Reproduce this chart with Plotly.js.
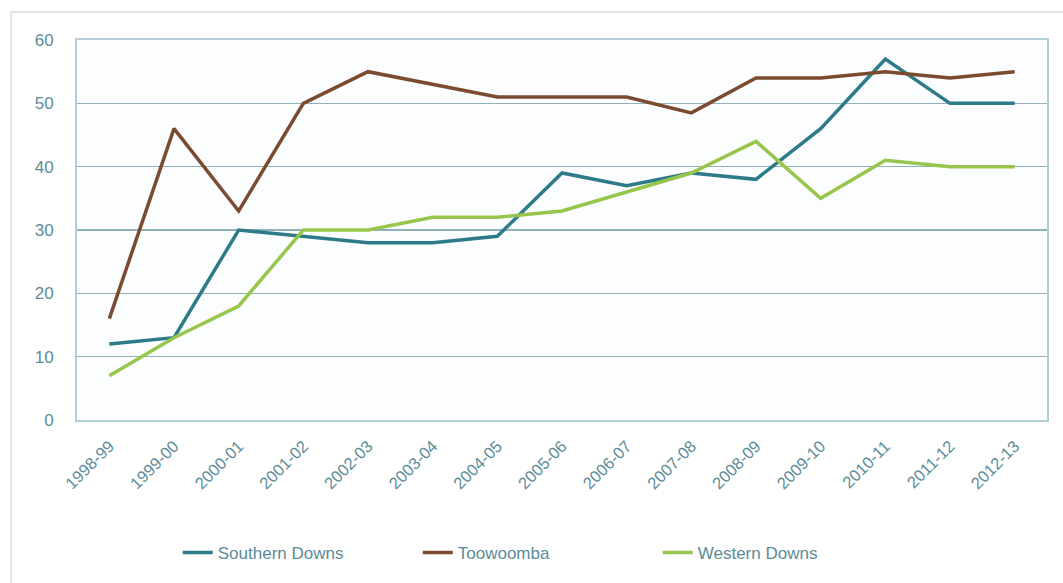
<!DOCTYPE html>
<html>
<head>
<meta charset="utf-8">
<script src="https://cdn.plot.ly/plotly-3.0.1.min.js"></script>
<style>
html,body{margin:0;padding:0;background:#ffffff;}
#chart{width:1063px;height:583px;}
</style>
</head>
<body>
<div id="chart"></div>
<script>
const years = ["1998-99","1999-00","2000-01","2001-02","2002-03","2003-04","2004-05","2005-06","2006-07","2007-08","2008-09","2009-10","2010-11","2011-12","2012-13"];
const southernDowns = [12,13,30,29,28,28,29,39,37,39,38,46,57,50,50];
const toowoomba = [16,46,33,50,55,53,51,51,51,48.5,54,54,55,54,55];
const westernDowns = [7,13,18,30,30,32,32,33,36,39,44,35,41,40,40];
const yTicks = [0,10,20,30,40,50,60];

const labelColor = "#5b8c97";
const traces = [
  {x: years, y: southernDowns, name: "Southern Downs", type: "scatter", mode: "lines", line: {color: "#2d7a89", width: 3.5}},
  {x: years, y: toowoomba, name: "Toowoomba", type: "scatter", mode: "lines", line: {color: "#7b4b30", width: 3.5}},
  {x: years, y: westernDowns, name: "Western Downs", type: "scatter", mode: "lines", line: {color: "#98c64c", width: 3.5}}
];

const layout = {
  width: 1063, height: 583,
  margin: {l: 77, r: 16, t: 40, b: 163},
  paper_bgcolor: "#ffffff",
  plot_bgcolor: "#fbfdfe",
  font: {family: "Liberation Sans, Arial, sans-serif", color: labelColor},
  showlegend: true,
  legend: {orientation: "h", x: 0.475, xanchor: "center", y: -0.35, yanchor: "middle",
           font: {size: 17, color: labelColor}, entrywidth: 195, traceorder: "normal"},
  xaxis: {
    type: "category", range: [-0.5, 14.5],
    tickangle: -45, tickfont: {size: 16.5, color: labelColor},
    showgrid: false, zeroline: false, showline: true, mirror: true,
    linecolor: "#b3cfd5", linewidth: 2, ticks: "", ticklabelstandoff: 8
  },
  yaxis: {
    range: [0, 60], tickvals: yTicks, ticktext: yTicks.map(String),
    tickfont: {size: 17, color: labelColor},
    showgrid: true, gridcolor: "#8fb2ba", gridwidth: 1.5,
    zeroline: false, showline: true, mirror: true,
    linecolor: "#b3cfd5", linewidth: 2, ticks: "", ticklabelstandoff: 18
  },
  shapes: [
    {type: "rect", xref: "paper", yref: "paper", x0: -0.068, x1: 1.2, y0: -1, y1: 1.0737,
     line: {color: "#dcdcdc", width: 1.5}, fillcolor: "rgba(0,0,0,0)", layer: "below"}
  ]
};

Plotly.newPlot("chart", traces, layout, {displayModeBar: false, staticPlot: true});
</script>
</body>
</html>
